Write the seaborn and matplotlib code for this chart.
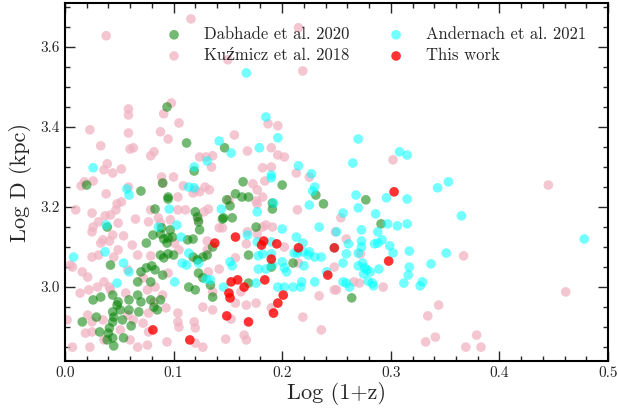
import numpy as np
import pandas as pd
import matplotlib
matplotlib.use("Agg")
import matplotlib.pyplot as plt
import seaborn as sns
from matplotlib.ticker import MultipleLocator

# ---------------- data ----------------
kuz_x = [0.038, 0.116, 0.0585, 0.0585, 0.098, 0.091, 0.105, 0.215, 0.150, 0.219, 0.187, 0.196,
         0.023, 0.0585, 0.088, 0.095, 0.033, 0.060, 0.063, 0.082, 0.079, 0.124, 0.039, 0.036,
         0.044, 0.052, 0.089, 0.100, 0.018, 0.026, 0.015, 0.090, 0.109, 0.118, 0.0585, 0.038,
         0.104, 0.048, 0.052, 0.010, 0.047, 0.025, 0.079, 0.104, 0.111, 0.037, 0.042, 0.031,
         0.049, 0.065, 0.077, 0.086, 0.088, 0.097, 0.026, 0.025, 0.044, 0.054, 0.035, 0.033,
         0.041, 0.101,
         0.007, 0.025, 0.031, 0.045, 0.049, 0.062, 0.067, 0.058, 0.079, 0.105, 0.095, 0.072,
         0.016, 0.005, 0.021, 0.036, 0.030, 0.014, 0.022, 0.041, 0.042, 0.056, 0.076, 0.083,
         0.082, 0.090, 0.077, 0.093, 0.002, 0.021, 0.025, 0.035, 0.058, 0.063, 0.072, 0.077,
         0.104, 0.104, 0.105, 0.025, 0.019, 0.051, 0.036, 0.060, 0.067, 0.076, 0.094, 0.007,
         0.023, 0.120, 0.119,
         0.156, 0.168, 0.190, 0.196, 0.202, 0.130, 0.136, 0.135, 0.182, 0.190, 0.184, 0.213,
         0.225, 0.173, 0.177, 0.120, 0.124, 0.129, 0.133, 0.182, 0.176, 0.177, 0.151, 0.132,
         0.128, 0.214, 0.123, 0.185, 0.191, 0.182, 0.142, 0.145, 0.168, 0.177, 0.131, 0.167,
         0.249,
         0.202, 0.131, 0.157, 0.142, 0.215, 0.132, 0.248, 0.162, 0.136, 0.234, 0.176, 0.157,
         0.167, 0.127, 0.136, 0.190, 0.153, 0.219, 0.120, 0.236, 0.148, 0.165, 0.167, 0.127,
         0.302, 0.254, 0.259, 0.272, 0.248, 0.266, 0.271, 0.250, 0.293, 0.367, 0.344, 0.334,
         0.341, 0.332, 0.369, 0.461, 0.379, 0.383, 0.445]
kuz_y = [3.628, 3.670, 3.445, 3.430, 3.460, 3.433, 3.410, 3.648, 3.568, 3.540, 3.408, 3.403,
         3.393, 3.385, 3.388, 3.370, 3.353, 3.345, 3.348, 3.338, 3.328, 3.325, 3.308, 3.293,
         3.285, 3.295, 3.275, 3.275, 3.263, 3.265, 3.253, 3.260, 3.253, 3.235, 3.250, 3.233,
         3.225, 3.208, 3.213, 3.193, 3.193, 3.185, 3.193, 3.193, 3.193, 3.178, 3.180, 3.163,
         3.160, 3.170, 3.163, 3.173, 3.160, 3.168, 3.150, 3.138, 3.130, 3.128, 3.118, 3.110,
         3.115, 3.110,
         3.050, 3.075, 3.080, 3.075, 3.093, 3.105, 3.080, 3.043, 3.078, 3.093, 3.035, 3.023,
         3.038, 3.055, 3.025, 3.013, 3.000, 2.985, 2.993, 3.000, 2.993, 2.985, 2.993, 3.000,
         2.963, 2.980, 2.935, 2.948, 2.918, 2.930, 2.913, 2.918, 2.930, 2.918, 2.910, 2.888,
         2.935, 2.913, 2.900, 2.888, 2.885, 2.893, 2.868, 2.868, 2.850, 2.855, 2.863, 2.850,
         2.850, 2.860, 2.913,
         3.380, 3.340, 3.348, 3.330, 3.325, 3.325, 3.328, 3.300, 3.298, 3.300, 3.265, 3.285,
         3.275, 3.258, 3.243, 3.243, 3.238, 3.250, 3.243, 3.225, 3.215, 3.208, 3.218, 3.195,
         3.188, 3.193, 3.168, 3.155, 3.150, 3.150, 3.148, 3.148, 3.138, 3.133, 3.115, 3.108,
         3.138,
         3.100, 3.093, 3.073, 3.045, 3.060, 3.038, 2.993, 2.988, 2.988, 2.978, 2.960, 2.960,
         2.955, 2.950, 2.943, 2.948, 2.920, 2.925, 2.898, 2.893, 2.870, 2.880, 2.868, 2.850,
         3.318, 3.173, 3.120, 3.083, 3.050, 3.013, 3.010, 2.993, 3.000, 3.078, 2.955, 2.928,
         2.875, 2.863, 2.850, 2.988, 2.880, 2.850, 3.255]

dab_x = [0.094, 0.112, 0.119, 0.020, 0.090, 0.070, 0.095, 0.095, 0.083, 0.120, 0.039, 0.089,
         0.097, 0.122, 0.123, 0.081, 0.088, 0.091, 0.095, 0.099, 0.113, 0.118, 0.075, 0.094,
         0.042, 0.070, 0.075, 0.080, 0.083, 0.088, 0.091, 0.095, 0.100, 0.118, 0.122, 0.123,
         0.090, 0.079, 0.067, 0.114, 0.120, 0.026, 0.033, 0.044, 0.049, 0.048, 0.059, 0.067,
         0.070, 0.079, 0.088, 0.082, 0.051, 0.044, 0.059, 0.068, 0.085, 0.016, 0.029, 0.045,
         0.044, 0.053, 0.061, 0.032, 0.041, 0.040, 0.039, 0.054, 0.044, 0.045,
         0.147, 0.164, 0.200, 0.231, 0.157, 0.163, 0.169, 0.149, 0.152, 0.191, 0.191, 0.238,
         0.146, 0.145, 0.154, 0.176, 0.124, 0.136, 0.131, 0.127, 0.169, 0.190, 0.210, 0.127,
         0.134, 0.169, 0.136, 0.277, 0.291, 0.264]
dab_y = [3.450, 3.360, 3.290, 3.255, 3.260, 3.240, 3.225, 3.220, 3.195, 3.188, 3.150, 3.148,
         3.143, 3.175, 3.163, 3.130, 3.133, 3.120, 3.123, 3.125, 3.118, 3.120, 3.110, 3.110,
         3.055, 3.038, 3.048, 3.053, 3.043, 3.080, 3.073, 3.083, 3.080, 3.075, 3.068, 3.035,
         3.030, 3.013, 3.013, 3.000, 2.993, 2.968, 2.975, 2.980, 2.963, 2.955, 2.968, 2.980,
         2.963, 2.968, 2.968, 2.950, 2.943, 2.938, 2.943, 2.938, 2.943, 2.913, 2.925, 2.925,
         2.913, 2.918, 2.903, 2.888, 2.898, 2.885, 2.868, 2.873, 2.873, 2.853,
         3.348, 3.263, 3.255, 3.230, 3.233, 3.225, 3.225, 3.218, 3.203, 3.210, 3.195, 3.208,
         3.173, 3.170, 3.173, 3.150, 3.143, 3.100, 3.080, 3.075, 3.080, 3.050, 3.060, 3.023,
         3.005, 3.010, 2.975, 3.218, 3.158, 2.973]

and_x = [0.167, 0.185, 0.026, 0.119, 0.114, 0.119, 0.057, 0.059, 0.096, 0.038, 0.086, 0.103,
         0.107, 0.008, 0.037, 0.054, 0.059, 0.114, 0.108, 0.112, 0.048, 0.101,
         0.196, 0.142, 0.153, 0.179, 0.131, 0.190, 0.190, 0.215, 0.227, 0.230, 0.228, 0.192,
         0.144, 0.225, 0.177, 0.168, 0.200, 0.234, 0.213, 0.190, 0.177, 0.219,
         0.219, 0.178, 0.182, 0.190, 0.211, 0.214, 0.224, 0.225, 0.230, 0.236, 0.152, 0.154,
         0.178, 0.185, 0.191, 0.200, 0.202, 0.204, 0.220, 0.241, 0.123, 0.130, 0.134, 0.146,
         0.176, 0.196, 0.202, 0.210, 0.218, 0.217, 0.230,
         0.270, 0.308, 0.315, 0.265, 0.343, 0.353, 0.268, 0.296, 0.315, 0.270, 0.256, 0.286,
         0.365, 0.297, 0.306, 0.315, 0.250, 0.273, 0.288, 0.273, 0.292, 0.288, 0.285, 0.261,
         0.299, 0.273, 0.302, 0.317, 0.351, 0.248, 0.259, 0.270, 0.256, 0.270, 0.274, 0.276,
         0.278, 0.281, 0.275, 0.289, 0.317, 0.316, 0.337, 0.256, 0.259, 0.279, 0.283, 0.284,
         0.262, 0.312, 0.327, 0.329, 0.478]
and_y = [3.535, 3.425, 3.298, 3.300, 3.250, 3.248, 3.245, 3.230, 3.195, 3.155, 3.150, 3.155,
         3.125, 3.075, 3.088, 3.060, 3.038, 3.085, 3.060, 3.055, 3.010, 3.013,
         3.373, 3.365, 3.335, 3.348, 3.315, 3.280, 3.273, 3.303, 3.283, 3.250, 3.240, 3.210,
         3.195, 3.205, 3.188, 3.130, 3.145, 3.150, 3.125, 3.113, 3.113, 3.110,
         3.088, 3.078, 3.083, 3.083, 3.085, 3.085, 3.080, 3.088, 3.075, 3.075, 3.063, 3.053,
         3.045, 3.045, 3.055, 3.063, 3.048, 3.038, 3.053, 3.038, 3.060, 3.020, 3.018, 3.000,
         3.010, 3.000, 3.000, 3.000, 3.013, 3.000, 3.013,
         3.370, 3.338, 3.330, 3.310, 3.248, 3.263, 3.230, 3.223, 3.220, 3.198, 3.185, 3.183,
         3.178, 3.158, 3.153, 3.158, 3.138, 3.143, 3.138, 3.115, 3.118, 3.110, 3.108, 3.108,
         3.103, 3.100, 3.085, 3.090, 3.085, 3.098, 3.083, 3.085, 3.060, 3.053, 3.060, 3.048,
         3.043, 3.038, 3.033, 3.045, 3.050, 3.030, 3.058, 3.013, 3.010, 3.015, 3.010, 3.003,
         3.000, 3.010, 3.003, 3.013, 3.120]

tw_x = [0.138, 0.183, 0.181, 0.195, 0.215, 0.248, 0.190, 0.242, 0.153, 0.159, 0.165, 0.184,
        0.151, 0.152, 0.201, 0.196, 0.192, 0.149, 0.169, 0.081, 0.115, 0.303, 0.298, 0.157]
tw_y = [3.110, 3.115, 3.105, 3.108, 3.098, 3.098, 3.070, 3.030, 3.013, 3.018, 3.000, 3.018,
        2.985, 2.973, 2.980, 2.960, 2.935, 2.928, 2.913, 2.893, 2.868, 3.238, 3.065, 3.125]

labels = ["Dabhade et al. 2020", "Kuźmicz et al. 2018", "Andernach et al. 2021", "This work"]
x_ticks = [0.0, 0.1, 0.2, 0.3, 0.4, 0.5]
y_ticks = [3.0, 3.2, 3.4, 3.6]

# ---------------- style ----------------
sns.set_style("ticks")
plt.rcParams["font.family"] = ["cmr10", "DejaVu Serif"]
plt.rcParams["mathtext.fontset"] = "cm"
plt.rcParams["axes.formatter.use_mathtext"] = True

fig = plt.figure(figsize=(6.18, 4.17), dpi=100)
ax = fig.add_axes([0.105, 0.134, 0.879, 0.859])

series = [
    (kuz_x, kuz_y, labels[1], "#f0b4c3", 0.75),
    (dab_x, dab_y, labels[0], "green", 0.55),
    (and_x, and_y, labels[2], "cyan", 0.55),
    (tw_x, tw_y, labels[3], "red", 0.8),
]
for xs, ys, lab, col, al in series:
    df = pd.DataFrame({"x": xs, "y": ys})
    sns.scatterplot(data=df, x="x", y="y", color=col, alpha=al, s=48,
                    edgecolor="none", linewidth=0, label=lab, ax=ax)

ax.set_xlim(0, 0.5)
ax.set_ylim(2.815, 3.71)
ax.set_xticks(x_ticks)
ax.set_yticks(y_ticks)
ax.set_xticklabels([f"{v:.1f}" for v in x_ticks])
ax.set_yticklabels([f"{v:.1f}" for v in y_ticks])
ax.xaxis.set_minor_locator(MultipleLocator(0.02))
ax.yaxis.set_minor_locator(MultipleLocator(0.05))
ax.tick_params(which="both", direction="in", top=True, right=True, labelsize=11, width=1.0)
ax.tick_params(which="major", length=7)
ax.tick_params(which="minor", length=3.5)
for sp in ax.spines.values():
    sp.set_linewidth(1.5)
    sp.set_color("black")

ax.set_xlabel("Log (1+z)", fontsize=16, labelpad=2)
ax.set_ylabel("Log D (kpc)", fontsize=16, labelpad=6)

h, l = ax.get_legend_handles_labels()
order = [l.index(t) for t in labels]
ax.legend([h[i] for i in order], [l[i] for i in order], ncol=2, frameon=False,
          fontsize=12, loc="upper center", bbox_to_anchor=(0.565, 0.975),
          columnspacing=1.8, handletextpad=0.8, labelspacing=0.35, markerscale=1.0)

fig.savefig("out.png", dpi=100)
